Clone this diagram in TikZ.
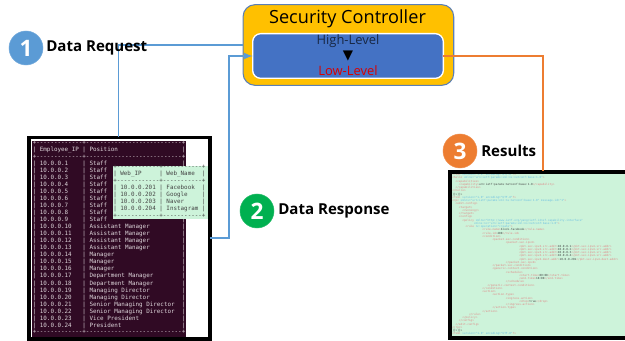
\documentclass[tikz,border=0pt]{standalone}
\usepackage{fontspec}
\setmainfont{Open Sans}
\newfontfamily\termfont{DejaVu Sans Mono}
\newfontfamily\symfont{DejaVu Sans}
\usetikzlibrary{arrows,positioning}
\definecolor{ctrlyellow}{HTML}{FFC000}
\definecolor{ctrlblue}{HTML}{4472C4}
\definecolor{ctrledge}{HTML}{5B7FB5}
\definecolor{linkblue}{HTML}{5B9BD5}
\definecolor{linkorange}{HTML}{ED7D31}
\definecolor{badgegreen}{HTML}{00B050}
\definecolor{termbg}{HTML}{300A24}
\definecolor{termtxt}{HTML}{DDD5DA}
\definecolor{shotgreen}{HTML}{CDF3DA}
\definecolor{xmlpink}{HTML}{E08888}
\definecolor{xmlcyan}{HTML}{6CC0E2}
\definecolor{xmlgrey}{HTML}{444444}

\begin{document}
\begin{tikzpicture}[
    x=0.75pt,y=-0.75pt,
    >=latex,
    badge/.style={circle,fill=#1,draw=#1!85!white,text=white,minimum size=25.5pt,
        inner sep=0pt,font=\bfseries\fontsize{17}{17}\selectfont},
    steplabel/.style={anchor=west,inner sep=0pt,font=\bfseries\fontsize{11.3}{13}\selectfont},
    termrow/.style={anchor=west,inner sep=0pt,text height=3pt,text depth=1pt,text=termtxt,
        font=\termfont\fontsize{4.42}{5}\selectfont},
    webrow/.style={termrow,text=xmlgrey},
    xmlrow/.style={anchor=west,inner sep=0pt,text height=1.5pt,text depth=0.5pt,text=xmlpink,
        font=\termfont\fontsize{2.09}{2.5}\selectfont},
    link/.style={draw=#1,line width=1.2pt},
    ]

    \useasboundingbox (0,0) rectangle (625,341);

    %Security Controller
    \node[draw=ctrledge,fill=ctrlyellow,rounded corners=9pt,line width=0.8pt,
        minimum width=158pt,minimum height=60.5pt] (ctrl) at (348.4,45) {};
    \node[inner sep=0pt,font=\fontsize{13.6}{15}\selectfont] (ctrltitle) at (347.5,18.5) {Security Controller};
    \node[draw=white,fill=ctrlblue,rounded corners=6pt,line width=1pt,outer sep=0pt,
        minimum width=143pt,minimum height=33.5pt] (levels) at (348,56) {};
    \node[inner sep=0pt,text=ctrlblue!35!black,font=\fontsize{9.7}{11}\selectfont] (high) at (348,40.7) {High-Level};
    \node[inner sep=0pt,font=\symfont\fontsize{10}{10}\selectfont] (down) at (348,56) {▼};
    \node[inner sep=0pt,text=red!85!black,font=\fontsize{9.7}{11}\selectfont] (low) at (348,70.7) {Low-Level};

    %Employee table
    \node[fill=termbg,minimum width=115.7pt,minimum height=147pt,inner sep=0pt] (empbg) at (108.9,239) {};
    \node[termrow] (emp0) at (32.5,143) {+-------------+---------------------------+};
    \node[termrow] (emphead) at (32.5,150) {|~Employee\_IP~|~Position~~~~~~~~~~~~~~~~~~|};
    \node[termrow] (emp00) at (32.5,157) {+-------------+---------------------------+};
    \node[termrow] (emp1) at (32.5,164) {|~10.0.0.1~~~~|~Staff~~~~~~~~~~~~~~~~~~~~~|};
    \node[termrow] (emp2) at (32.5,171) {|~10.0.0.2~~~~|~Staff};
    \node[termrow] (emp3) at (32.5,178) {|~10.0.0.3~~~~|~Staff};
    \node[termrow] (emp4) at (32.5,185) {|~10.0.0.4~~~~|~Staff};
    \node[termrow] (emp5) at (32.5,192) {|~10.0.0.5~~~~|~Staff};
    \node[termrow] (emp6) at (32.5,199) {|~10.0.0.6~~~~|~Staff};
    \node[termrow] (emp7) at (32.5,206) {|~10.0.0.7~~~~|~Staff};
    \node[termrow] (emp8) at (32.5,213) {|~10.0.0.8~~~~|~Staff};
    \node[termrow] (emp9) at (32.5,220.4) {|~10.0.0.9~~~~|~Staff~~~~~~~~~~~~~~~~~~~~~|};
    \node[termrow] (emp10) at (32.5,227.4) {|~10.0.0.10~~~|~Assistant~Manager~~~~~~~~~|};
    \node[termrow] (emp11) at (32.5,234.4) {|~10.0.0.11~~~|~Assistant~Manager~~~~~~~~~|};
    \node[termrow] (emp12) at (32.5,241.4) {|~10.0.0.12~~~|~Assistant~Manager~~~~~~~~~|};
    \node[termrow] (emp13) at (32.5,248.5) {|~10.0.0.13~~~|~Assistant~Manager~~~~~~~~~|};
    \node[termrow] (emp14) at (32.5,255.5) {|~10.0.0.14~~~|~Manager~~~~~~~~~~~~~~~~~~~|};
    \node[termrow] (emp15) at (32.5,262.6) {|~10.0.0.15~~~|~Manager~~~~~~~~~~~~~~~~~~~|};
    \node[termrow] (emp16) at (32.5,269.6) {|~10.0.0.16~~~|~Manager~~~~~~~~~~~~~~~~~~~|};
    \node[termrow] (emp17) at (32.5,276.6) {|~10.0.0.17~~~|~Department~Manager~~~~~~~~|};
    \node[termrow] (emp18) at (32.5,283.7) {|~10.0.0.18~~~|~Department~Manager~~~~~~~~|};
    \node[termrow] (emp19) at (32.5,290.7) {|~10.0.0.19~~~|~Managing~Director~~~~~~~~~|};
    \node[termrow] (emp20) at (32.5,297.8) {|~10.0.0.20~~~|~Managing~Director~~~~~~~~~|};
    \node[termrow] (emp21) at (32.5,304.8) {|~10.0.0.21~~~|~Senior~Managing~Director~~|};
    \node[termrow] (emp22) at (32.5,311.9) {|~10.0.0.22~~~|~Senior~Managing~Director~~|};
    \node[termrow] (emp23) at (32.5,318.9) {|~10.0.0.23~~~|~Vice~President~~~~~~~~~~~~|};
    \node[termrow] (emp24) at (32.5,326) {|~10.0.0.24~~~|~President~~~~~~~~~~~~~~~~~|};
    \node[termrow] (emp25) at (32.5,332.5) {+-------------+---------------------------+};

    %Web table
    \node[fill=shotgreen,minimum width=71pt,minimum height=39.8pt,inner sep=0pt] (webbg) at (160.7,192.2) {};
    \node[webrow] (web0) at (113,167.5) {+------------+-----------+};
    \node[webrow] (webhead) at (113,174.5) {|~Web\_IP~~~~~|~Web\_Name~~|};
    \node[webrow] (web00) at (113,181) {+------------+-----------+};
    \node[webrow] (web1) at (113,188) {|~10.0.0.201~|~Facebook~~|};
    \node[webrow] (web2) at (113,195) {|~10.0.0.202~|~Google~~~~|};
    \node[webrow] (web3) at (113,202) {|~10.0.0.203~|~Naver~~~~~|};
    \node[webrow] (web4) at (113,209) {|~10.0.0.204~|~Instagram~|};
    \node[webrow] (web5) at (113,216) {+------------+-----------+};

    %frame of the tables
    \node[draw=black,line width=2.6pt,minimum width=135.8pt,minimum height=151.2pt,
        outer sep=0pt] (empshot) at (119.5,238.2) {};
    \coordinate (emptop) at (118.4,137);

    %XML output
    \fill[shotgreen] (450,172) rectangle (625,338);
    \node[xmlrow] (xml1) at (452,175) {<?xml {\color{xmlcyan}version="1.0" encoding="UTF-8"}?>};
    \node[xmlrow] (xml2) at (452,178.3) {<hello {\color{xmlcyan}xmlns="urn:ietf:params:xml:ns:netconf:base:1.0"}>};
    \node[xmlrow] (xml3) at (452,181.5) {~~<capabilities>};
    \node[xmlrow] (xml4) at (452,184.8) {~~~~<capability>{\color{xmlgrey}urn:ietf:params:netconf:base:1.0}</capability>};
    \node[xmlrow] (xml5) at (452,188) {~~</capabilities>};
    \node[xmlrow] (xml6) at (452,191.3) {</hello>};
    \node[xmlrow] (xml7) at (452,194.5) {{\color{xmlgrey}]]>]]>}};
    \node[xmlrow] (xml8) at (452,197.8) {<?xml {\color{xmlcyan}version="1.0" encoding="UTF-8"}?>};
    \node[xmlrow] (xml9) at (452,201) {<rpc {\color{xmlcyan}xmlns="urn:ietf:params:xml:ns:netconf:base:1.0" message-id="1"}>};
    \node[xmlrow] (xml10) at (452,204.3) {~~<edit-config>};
    \node[xmlrow] (xml11) at (452,207.5) {~~~~<target>};
    \node[xmlrow] (xml12) at (452,210.8) {~~~~~~<running/>};
    \node[xmlrow] (xml13) at (452,214) {~~~~</target>};
    \node[xmlrow] (xml14) at (452,217.3) {~~~~<config>};
    \node[xmlrow] (xml15) at (452,220.5) {~~~~~~<policy {\color{xmlcyan}xmlns="http://www.ietf.org/yang/ietf-i2nsf-capability-interface"}};
    \node[xmlrow] (xml16) at (452,223.8) {~~~~~~~~~~~~~{\color{xmlcyan}xmlns:nc="urn:ietf:params:xml:ns:netconf:base:1.0"}>};
    \node[xmlrow] (xml17) at (452,227) {~~~~~~~~<rule {\color{xmlcyan}nc:operation="create"}>};
    \node[xmlrow] (xml18) at (452,230.3) {~~~~~~~~~~~~~~~~~~<rule-name>{\color{xmlgrey}block-facebook}</rule-name>};
    \node[xmlrow] (xml19) at (452,233.5) {~~~~~~~~~~~~~~~~~~<rule-id>{\color{xmlgrey}200}</rule-id>};
    \node[xmlrow] (xml20) at (452,236.8) {~~~~~~~~~~~~~~~~~~<condition>};
    \node[xmlrow] (xml21) at (452,240) {~~~~~~~~~~~~~~~~~~~~~~~~<packet-sec-condition>};
    \node[xmlrow] (xml22) at (452,243.3) {~~~~~~~~~~~~~~~~~~~~~~~~~~~~~~~~<packet-sec-ipv4>};
    \node[xmlrow] (xml23) at (452,246.5) {~~~~~~~~~~~~~~~~~~~~~~~~~~~~~~~~~~~~~~~~<pkt-sec-ipv4-src-addr>{\color{xmlgrey}10.0.0.1}</pkt-sec-ipv4-src-addr>};
    \node[xmlrow] (xml24) at (452,249.8) {~~~~~~~~~~~~~~~~~~~~~~~~~~~~~~~~~~~~~~~~<pkt-sec-ipv4-src-addr>{\color{xmlgrey}10.0.0.2}</pkt-sec-ipv4-src-addr>};
    \node[xmlrow] (xml25) at (452,253) {~~~~~~~~~~~~~~~~~~~~~~~~~~~~~~~~~~~~~~~~<pkt-sec-ipv4-src-addr>{\color{xmlgrey}10.0.0.3}</pkt-sec-ipv4-src-addr>};
    \node[xmlrow] (xml26) at (452,256.3) {~~~~~~~~~~~~~~~~~~~~~~~~~~~~~~~~~~~~~~~~<pkt-sec-ipv4-src-addr>{\color{xmlgrey}10.0.0.4}</pkt-sec-ipv4-src-addr>};
    \node[xmlrow] (xml27) at (452,259.5) {~~~~~~~~~~~~~~~~~~~~~~~~~~~~~~~~~~~~~~~~<pkt-sec-ipv4-dest-addr>{\color{xmlgrey}10.0.0.201}</pkt-sec-ipv4-dest-addr>};
    \node[xmlrow] (xml28) at (452,262.8) {~~~~~~~~~~~~~~~~~~~~~~~~~~~~~~~~</packet-sec-ipv4>};
    \node[xmlrow] (xml29) at (452,266) {~~~~~~~~~~~~~~~~~~~~~~~~</packet-sec-condition>};
    \node[xmlrow] (xml30) at (452,269.3) {~~~~~~~~~~~~~~~~~~~~~~~~<generic-context-condition>};
    \node[xmlrow] (xml31) at (452,272.5) {~~~~~~~~~~~~~~~~~~~~~~~~~~~~~~~~<schedule>};
    \node[xmlrow] (xml32) at (452,275.8) {~~~~~~~~~~~~~~~~~~~~~~~~~~~~~~~~~~~~~~~~<start-time>{\color{xmlgrey}09:00}</start-time>};
    \node[xmlrow] (xml33) at (452,279) {~~~~~~~~~~~~~~~~~~~~~~~~~~~~~~~~~~~~~~~~<end-time>{\color{xmlgrey}18:00}</end-time>};
    \node[xmlrow] (xml34) at (452,282.3) {~~~~~~~~~~~~~~~~~~~~~~~~~~~~~~~~</schedule>};
    \node[xmlrow] (xml35) at (452,285.5) {~~~~~~~~~~~~~~~~~~~~~</generic-context-condition>};
    \node[xmlrow] (xml36) at (452,288.8) {~~~~~~~~~~~~~~~~~~</condition>};
    \node[xmlrow] (xml37) at (452,292) {~~~~~~~~~~~~~~~~~~<action>};
    \node[xmlrow] (xml38) at (452,295.3) {~~~~~~~~~~~~~~~~~~~~~~~~<action-type>};
    \node[xmlrow] (xml39) at (452,298.5) {~~~~~~~~~~~~~~~~~~~~~~~~~~~~~~~~<ingress-action>};
    \node[xmlrow] (xml40) at (452,301.8) {~~~~~~~~~~~~~~~~~~~~~~~~~~~~~~~~~~~~~~~~<drop>{\color{xmlgrey}true}</drop>};
    \node[xmlrow] (xml41) at (452,305) {~~~~~~~~~~~~~~~~~~~~~~~~~~~~~~~~</ingress-action>};
    \node[xmlrow] (xml42) at (452,308.3) {~~~~~~~~~~~~~~~~~~~~~~~~</action-type>};
    \node[xmlrow] (xml43) at (452,311.5) {~~~~~~~~~~~~~~~~~~</action>};
    \node[xmlrow] (xml44) at (452,314.8) {~~~~~~~~~~</rule>};
    \node[xmlrow] (xml45) at (452,318) {~~~~~~</policy>};
    \node[xmlrow] (xml46) at (452,321.3) {~~~~</config>};
    \node[xmlrow] (xml47) at (452,324.5) {~~</edit-config>};
    \node[xmlrow] (xml48) at (452,327.8) {</rpc>};
    \node[xmlrow] (xml49) at (452,331) {{\color{xmlgrey}]]>]]>}};
    \node[xmlrow] (xml50) at (452,334.3) {<?xml {\color{xmlcyan}version="1.0" encoding="UTF-8"}?>};
    \draw[black,line width=2.6pt] (625,172.2) -- (450,172.2) -- (450,337.8) -- (625,337.8);
    \coordinate (xmltop) at (543.2,171);

    %Links
    \draw[link=linkblue] (ctrl.west) -| (emptop);
    \draw[link=linkblue,->] (empshot.east) -- ++(19,0) |- (levels.west);
    \draw[link=linkorange] (levels.east) -| (xmltop);

    %Steps
    \node[badge=linkblue] (one) at (26,48) {1};
    \node[steplabel] (onelabel) at (46,48) {Data Request};
    \node[badge=badgegreen] (two) at (257,211) {2};
    \node[steplabel] (twolabel) at (278,211) {Data Response};
    \node[badge=linkorange] (three) at (460,151) {3};
    \node[steplabel] (threelabel) at (481,151) {Results};

\end{tikzpicture}
\end{document}
